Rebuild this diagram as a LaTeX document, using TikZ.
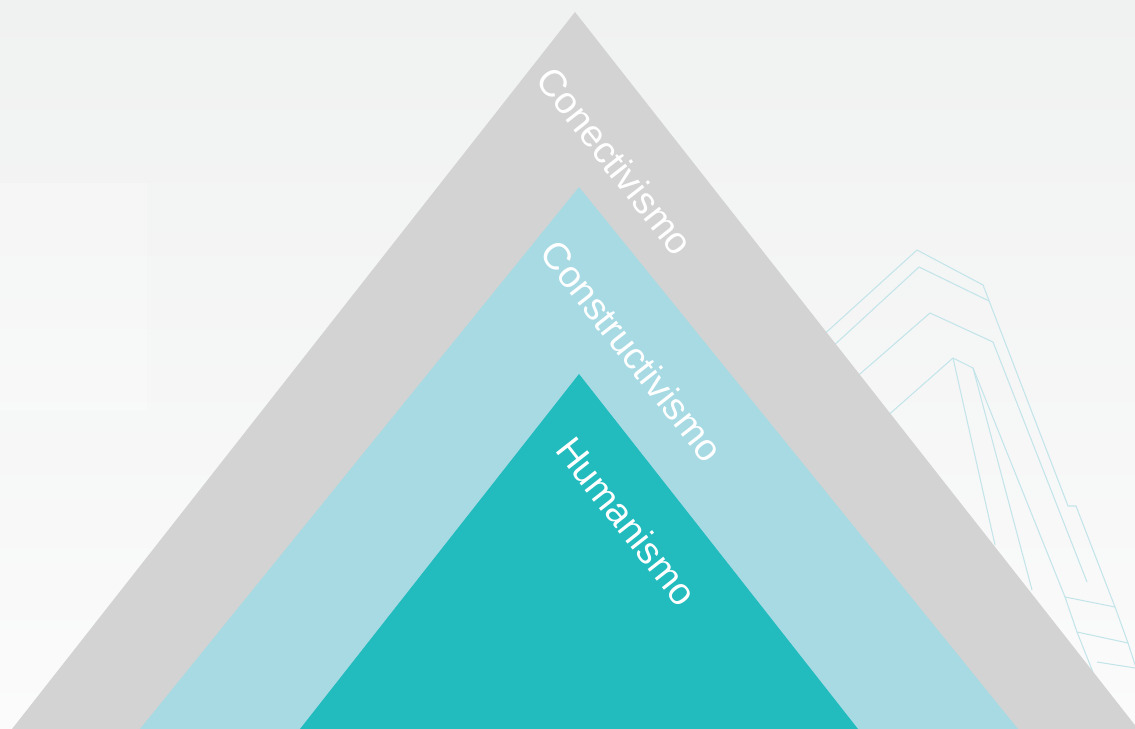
\documentclass[tikz,border=0pt]{standalone}
\usepackage{fontspec}
\setmainfont{Liberation Sans}
\definecolor{bgtop}{HTML}{F0F1F1}
\definecolor{bgbottom}{HTML}{FBFBFB}
\definecolor{layergray}{HTML}{D2D3D2}
\definecolor{layerblue}{HTML}{A8DAE4}
\definecolor{layerteal}{HTML}{22BBBE}
\definecolor{deco}{HTML}{C3E5EA}
\tikzset{
  layerlabel/.style={text=white,rotate=-51.8,inner sep=0pt,font=\fontsize{21.5}{24}\selectfont},
  decoline/.style={deco,line width=0.6pt,line join=miter}
}
\begin{document}
\begin{tikzpicture}[x=0.02cm,y=-0.02cm]
\useasboundingbox (0,0) rectangle (1135,729);
\shade[top color=bgtop,bottom color=bgbottom] (0,0) rectangle (1135,729);
\fill[white,opacity=0.25] (0,183) rectangle (147,410);

% thin lines behind the pyramid
\draw[decoline] (820,338) -- (917,250) -- (983,285) -- (1068,506) -- (1076,506) -- (1115,607) -- (1128,643) -- (1140,680);
\draw[decoline] (830,349) -- (919,267) -- (989,301);
\draw[decoline] (845,387) -- (930,313) -- (993,342) -- (1087,582);
\draw[decoline] (885,418) -- (953,358) -- (973,368) -- (1065,597) -- (1077,632) -- (1100,690);
\draw[decoline] (953,358) -- (995,545);
\draw[decoline] (973,368) -- (1032,590);
\draw[decoline] (1065,597) -- (1115,607);
\draw[decoline] (1077,632) -- (1128,643);
\draw[decoline] (1097,662) -- (1135,668);

% the three layers
\coordinate (outer top) at (575,12);
\coordinate (middle top) at (579,187);
\coordinate (inner top) at (579,374);
\fill[layergray] (outer top) -- (12,729) -- (1138,729) -- cycle;
\fill[layerblue] (middle top) -- (140,729) -- (1018,729) -- cycle;
\fill[layerteal] (inner top) -- (300,729) -- (858,729) -- cycle;

\node[layerlabel] (conect) at (615,161) {Conectivismo};
\node[layerlabel] (construct) at (632,351) {Constructivismo};
\node[layerlabel] (human) at (627,521) {Humanismo};
\end{tikzpicture}
\end{document}
